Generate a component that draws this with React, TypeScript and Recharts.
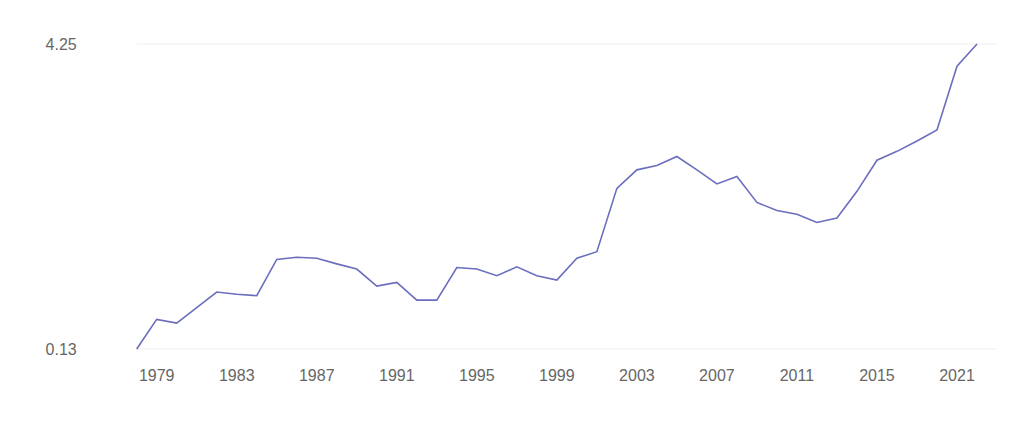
import React from "react";
import { LineChart, Line, XAxis, YAxis, CartesianGrid } from "recharts";

const years: number[] = [
  1978, 1979, 1980, 1981, 1982, 1983, 1984, 1985, 1986, 1987,
  1988, 1989, 1990, 1991, 1992, 1993, 1994, 1995, 1996, 1997,
  1998, 1999, 2000, 2001, 2002, 2003, 2004, 2005, 2006, 2007,
  2008, 2009, 2010, 2011, 2012, 2013, 2014, 2015, 2016, 2017,
  2018, 2021, 2022,
];

const values: number[] = [
  0.13, 0.53, 0.48, 0.69, 0.9, 0.87, 0.85, 1.34, 1.37, 1.355,
  1.28, 1.21, 0.98, 1.03, 0.79, 0.79, 1.23, 1.21, 1.12, 1.24,
  1.12, 1.06, 1.355, 1.445, 2.3, 2.55, 2.61, 2.73, 2.55, 2.36,
  2.46, 2.11, 2.0, 1.95, 1.84, 1.9, 2.26, 2.68, 2.8, 2.94,
  3.09, 3.95, 4.25,
];

const xTicks: number[] = [1979, 1983, 1987, 1991, 1995, 1999, 2003, 2007, 2011, 2015, 2021];
const yTicks: number[] = [0.13, 4.25];

const data = years.map((y, i) => ({ year: y, value: values[i] }));

export default function App() {
  return (
    <div style={{ width: 1008, height: 408 }}>
      <LineChart
        width={1008}
        height={408}
        data={data}
        margin={{ top: 36, right: 19, bottom: 37, left: 68.7 }}
      >
        <CartesianGrid vertical={false} stroke="#efefef" strokeWidth={1} />
        <XAxis
          dataKey="year"
          type="category"
          ticks={xTicks}
          interval={0}
          axisLine={false}
          tickLine={false}
          tickMargin={15}
          height={30}
          padding={{ left: 0, right: 20 }}
          tick={{ fill: "#666666", fontSize: 16, fontFamily: "Liberation Sans, Arial, sans-serif" }}
        />
        <YAxis
          type="number"
          domain={[0.13, 4.25]}
          ticks={yTicks}
          interval={0}
          width={60}
          axisLine={false}
          tickLine={false}
          tickMargin={54}
          tickFormatter={(v: number) => v.toFixed(2)}
          tick={{ fill: "#666666", fontSize: 16, fontFamily: "Liberation Sans, Arial, sans-serif" }}
        />
        <Line
          type="linear"
          dataKey="value"
          stroke="#6b6ebe"
          strokeWidth={1.6}
          dot={false}
          activeDot={false}
          isAnimationActive={false}
        />
      </LineChart>
    </div>
  );
}
